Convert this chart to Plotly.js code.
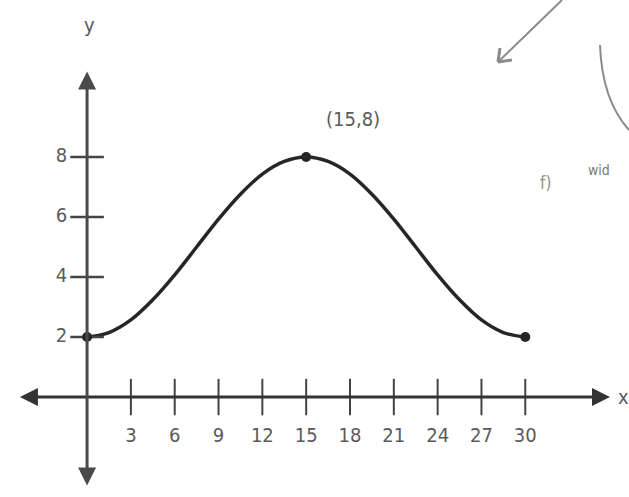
<!DOCTYPE html>
<html lang="en">
<head>
    <meta charset="UTF-8">
    <title>Periodic curve</title>
    <script src="https://cdn.plot.ly/plotly-3.0.1.min.js"></script>
    <style>
        body { margin: 0; padding: 0; background: #ffffff; }
        #plot { width: 629px; height: 497px; }
    </style>
</head>
<body>
    <div id="plot"></div>
    <script>
        // curve values
        const curveX = [0, 1.5, 3, 4.5, 6, 7.5, 9, 10.5, 12, 13.5, 15, 16.5, 18, 19.5, 21, 22.5, 24, 25.5, 27, 28.5, 30];
        const curveY = [2, 2.15, 2.57, 3.24, 4.07, 5.0, 5.93, 6.76, 7.43, 7.85, 8, 7.85, 7.43, 6.76, 5.93, 5.0, 4.07, 3.24, 2.57, 2.15, 2];

        // marked points
        const dotX = [0, 15, 30];
        const dotY = [2, 8, 2];

        // tick labels
        const xTicks = [3, 6, 9, 12, 15, 18, 21, 24, 27, 30];
        const yTicks = [2, 4, 6, 8];

        const ink = '#262626';
        const labelFont = { family: 'DejaVu Sans Condensed, Liberation Sans, sans-serif', size: 20, color: '#5a5a5a' };
        const faint = { family: 'DejaVu Sans Condensed, sans-serif', size: 17, color: '#8f8f8f' };

        const curve = {
            x: curveX, y: curveY,
            type: 'scatter', mode: 'lines',
            line: { color: ink, width: 3.5, shape: 'spline' },
            hoverinfo: 'skip'
        };
        const dots = {
            x: dotX, y: dotY,
            type: 'scatter', mode: 'markers',
            marker: { color: ink, size: 10 },
            hoverinfo: 'skip'
        };
        const xTickMarks = {
            x: xTicks, y: xTicks.map(() => 0),
            type: 'scatter', mode: 'markers',
            marker: { symbol: 'line-ns', size: 26, line: { color: '#444', width: 2 } },
            hoverinfo: 'skip'
        };
        const yTickMarks = {
            x: yTicks.map(() => 0), y: yTicks,
            type: 'scatter', mode: 'markers',
            marker: { symbol: 'line-ew', size: 24, line: { color: '#444', width: 2.5 } },
            hoverinfo: 'skip'
        };
        const xTickText = {
            x: xTicks, y: xTicks.map(() => -1.33),
            type: 'scatter', mode: 'text',
            text: xTicks.map(String),
            textfont: labelFont,
            hoverinfo: 'skip'
        };
        const yTickText = {
            x: yTicks.map(() => -1.75), y: yTicks,
            type: 'scatter', mode: 'text',
            text: yTicks.map(String),
            textfont: labelFont,
            hoverinfo: 'skip'
        };

        const layout = {
            width: 629,
            height: 497,
            margin: { l: 0, r: 0, t: 0, b: 0 },
            paper_bgcolor: '#ffffff',
            plot_bgcolor: '#ffffff',
            showlegend: false,
            xaxis: { range: [-5.96, 37.1], visible: false, fixedrange: true },
            yaxis: { range: [-3.33, 13.23], visible: false, fixedrange: true },
            annotations: [
                // x axis, both ends
                { x: 35.8, y: 0, ax: -4.7, ay: 0, axref: 'x', ayref: 'y', xref: 'x', yref: 'y',
                  text: '', showarrow: true, arrowside: 'end+start', arrowhead: 2, arrowsize: 1.2,
                  arrowwidth: 3, arrowcolor: '#333' },
                // y axis, both ends
                { x: 0, y: 10.85, ax: 0, ay: -3.0, axref: 'x', ayref: 'y', xref: 'x', yref: 'y',
                  text: '', showarrow: true, arrowside: 'end+start', arrowhead: 2, arrowsize: 1.2,
                  arrowwidth: 3, arrowcolor: '#4a4a4a' },
                { x: 36.7, y: 0, xref: 'x', yref: 'y', text: 'x', showarrow: false, font: labelFont },
                { x: 0.2, y: 12.4, xref: 'x', yref: 'y', text: 'y', showarrow: false, font: labelFont },
                { x: 18.2, y: 9.25, xref: 'x', yref: 'y', text: '(15,8)', showarrow: false, font: labelFont },
                // scanned leftovers at the top right
                { x: 553 / 629, y: 1 - 183 / 497, xref: 'paper', yref: 'paper', text: 'f)', showarrow: false, font: faint },
                { x: 612 / 629, y: 1 - 160 / 497, xref: 'paper', yref: 'paper', text: 'wid', showarrow: false,
                  font: { family: 'DejaVu Sans Condensed, sans-serif', size: 14, color: '#7a7a7a' } }
            ],
            shapes: [
                { type: 'line', xref: 'paper', yref: 'paper', x0: 562 / 629, y0: 1, x1: 498 / 629, y1: 1 - 62 / 497,
                  line: { color: '#8a8a8a', width: 2 } },
                { type: 'line', xref: 'paper', yref: 'paper', x0: 498 / 629, y0: 1 - 62 / 497, x1: 512 / 629, y1: 1 - 60 / 497,
                  line: { color: '#8a8a8a', width: 3 } },
                { type: 'line', xref: 'paper', yref: 'paper', x0: 498 / 629, y0: 1 - 62 / 497, x1: 500 / 629, y1: 1 - 48 / 497,
                  line: { color: '#8a8a8a', width: 3 } },
                { type: 'path', xref: 'paper', yref: 'paper',
                  path: 'M ' + (600 / 629) + ' ' + (1 - 45 / 497) + ' Q ' + (602 / 629) + ' ' + (1 - 100 / 497) + ' 1 ' + (1 - 130 / 497),
                  line: { color: '#8a8a8a', width: 2 } }
            ]
        };

        Plotly.newPlot('plot', [curve, xTickMarks, yTickMarks, dots, xTickText, yTickText], layout, { staticPlot: true, displayModeBar: false });
    </script>
</body>
</html>
